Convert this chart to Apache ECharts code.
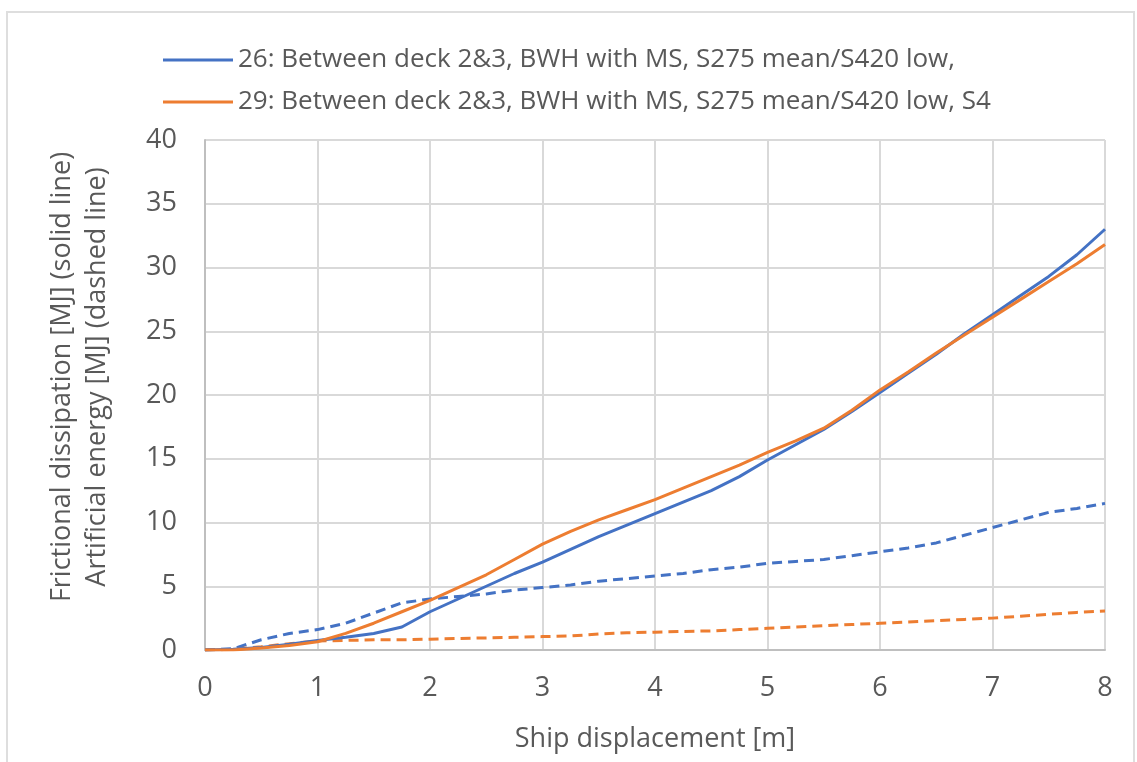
<!DOCTYPE html>
<html><head><meta charset="utf-8">
<script src="https://cdn.jsdelivr.net/npm/echarts@6/dist/echarts.min.js"></script>
<style>html,body{margin:0;padding:0;background:#fff}#c{width:1137px;height:762px}</style>
</head><body><div id="c"></div>
<script>
const xValues = [0,0.25,0.5,0.75,1,1.25,1.5,1.75,2,2.25,2.5,2.75,3,3.25,3.5,3.75,4,4.25,4.5,4.75,5,5.25,5.5,5.75,6,6.25,6.5,6.75,7,7.25,7.5,7.75,8];
const fric26 = [0,0.05,0.2,0.45,0.75,1.0,1.3,1.8,3.0,4.0,5.0,6.0,6.9,7.9,8.9,9.8,10.7,11.6,12.5,13.6,14.9,16.1,17.3,18.7,20.2,21.7,23.2,24.8,26.3,27.8,29.3,31.0,33.0];
const fric29 = [0,0.0,0.15,0.35,0.65,1.3,2.1,3.0,3.9,4.9,5.9,7.1,8.3,9.3,10.2,11.0,11.8,12.7,13.6,14.5,15.5,16.4,17.4,18.8,20.4,21.8,23.3,24.7,26.1,27.5,28.9,30.3,31.8];
const art26 = [0,0.1,0.8,1.3,1.6,2.1,2.9,3.7,4.0,4.2,4.4,4.7,4.9,5.1,5.4,5.6,5.8,6.0,6.3,6.5,6.8,6.95,7.1,7.4,7.7,8.0,8.4,9.0,9.6,10.2,10.8,11.1,11.5];
const art29 = [0,0.05,0.25,0.5,0.7,0.75,0.8,0.8,0.85,0.9,0.95,1.0,1.05,1.1,1.25,1.35,1.4,1.45,1.5,1.6,1.7,1.8,1.9,2.0,2.1,2.2,2.3,2.4,2.5,2.65,2.8,2.95,3.05];
const name26 = '26: Between deck 2&3, BWH with MS, S275 mean/S420 low,';
const name29 = '29: Between deck 2&3, BWH with MS, S275 mean/S420 low, S4';
const yTitle = 'Frictional dissipation [MJ] (solid line)\nArtificial energy [MJ] (dashed line)';
const xTitle = 'Ship displacement [m]';

const BLUE = '#4472C4', ORANGE = '#ED7D31', TXT = '#595959', FONT = '"Open Sans", "Noto Sans", sans-serif';
const pairs = a => xValues.map((x, i) => [x, a[i]]);
const chart = echarts.init(document.getElementById('c'));
const lineSeries = (name, data, color, dashed) => ({
  name, type: 'line', data: pairs(data), showSymbol: false, symbol: 'none',
  lineStyle: { color, width: 3, type: dashed ? [10, 6] : 'solid' },
  itemStyle: { color }, animation: false, z: dashed ? 2 : 3
});
chart.setOption({
  animation: false,
  textStyle: { fontFamily: FONT },
  graphic: [{ type: 'rect', shape: { x: 7, y: 12, width: 1127, height: 780 }, style: { fill: 'none', stroke: '#dedede', lineWidth: 2 }, silent: true }],
  legend: {
    data: [name26, name29], orient: 'vertical', left: 163, top: 47, padding: 0,
    itemWidth: 70, itemHeight: 3, icon: 'rect', itemGap: 16,
    textStyle: { color: TXT, fontSize: 26, fontFamily: FONT }
  },
  grid: { left: 205, right: 32, top: 140, bottom: 112, containLabel: false },
  xAxis: {
    type: 'value', min: 0, max: 8, interval: 1,
    name: xTitle, nameLocation: 'middle', nameGap: 76,
    nameTextStyle: { color: TXT, fontSize: 27, fontFamily: FONT },
    axisLine: { show: true, lineStyle: { color: '#bfbfbf', width: 2 } },
    axisTick: { show: false },
    axisLabel: { color: TXT, fontSize: 27, margin: 25, fontFamily: FONT },
    splitLine: { show: true, lineStyle: { color: '#d9d9d9', width: 2 } }
  },
  yAxis: {
    type: 'value', min: 0, max: 40, interval: 5,
    name: yTitle, nameLocation: 'middle', nameGap: 90,
    nameTextStyle: { color: TXT, fontSize: 27, lineHeight: 35, align: 'center', fontFamily: FONT, padding: [0, 0, 0, 36] },
    axisLine: { show: true, lineStyle: { color: '#bfbfbf', width: 2 } },
    axisTick: { show: false },
    axisLabel: { color: TXT, fontSize: 27, margin: 28, fontFamily: FONT },
    splitLine: { show: true, lineStyle: { color: '#d9d9d9', width: 2 } }
  },
  series: [
    lineSeries(name26, fric26, BLUE, false),
    lineSeries(name29, fric29, ORANGE, false),
    lineSeries('26 artificial', art26, BLUE, true),
    lineSeries('29 artificial', art29, ORANGE, true)
  ]
});
</script></body></html>
